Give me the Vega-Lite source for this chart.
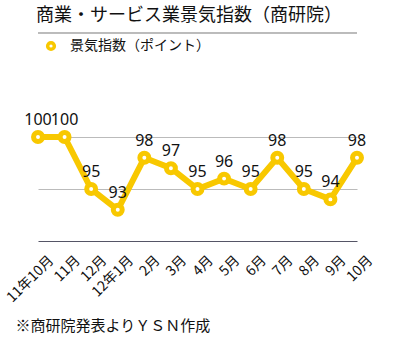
{
  "$schema": "https://vega.github.io/schema/vega-lite/v6.json",
  "autosize": {"type": "none"},
  "padding": {"left": 38, "top": 33, "right": 45, "bottom": 101},
  "width": 319,
  "height": 208,
  "background": "white",
  "config": {
    "font": "Noto Sans CJK JP",
    "view": {"stroke": null}
  },
  "title": {
    "text": "商業・サービス業景気指数（商研院）",
    "anchor": "start",
    "frame": "group",
    "fontSize": 18,
    "fontWeight": "normal",
    "color": "#111111",
    "offset": 8,
    "dx": -2
  },
  "data": {
    "values": [
      {"month": "11年10月", "value": 100, "series": "景気指数（ポイント）"},
      {"month": "11月", "value": 100, "series": "景気指数（ポイント）"},
      {"month": "12月", "value": 95, "series": "景気指数（ポイント）"},
      {"month": "12年1月", "value": 93, "series": "景気指数（ポイント）"},
      {"month": "2月", "value": 98, "series": "景気指数（ポイント）"},
      {"month": "3月", "value": 97, "series": "景気指数（ポイント）"},
      {"month": "4月", "value": 95, "series": "景気指数（ポイント）"},
      {"month": "5月", "value": 96, "series": "景気指数（ポイント）"},
      {"month": "6月", "value": 95, "series": "景気指数（ポイント）"},
      {"month": "7月", "value": 98, "series": "景気指数（ポイント）"},
      {"month": "8月", "value": 95, "series": "景気指数（ポイント）"},
      {"month": "9月", "value": 94, "series": "景気指数（ポイント）"},
      {"month": "10月", "value": 98, "series": "景気指数（ポイント）"}
    ]
  },
  "encoding": {
    "x": {
      "field": "month",
      "type": "nominal",
      "sort": null,
      "scale": {"type": "point", "padding": 0},
      "axis": {
        "title": "※商研院発表よりＹＳＮ作成",
        "titleFontSize": 15,
        "titleFontWeight": "normal",
        "titleColor": "#111111",
        "titleAnchor": "start",
        "titleAlign": "left",
        "titleX": -23,
        "titleY": 84,
        "titleBaseline": "middle",
        "labelAngle": -45,
        "labelAlign": "right",
        "labelBaseline": "middle",
        "labelOffset": 13,
        "labelPadding": 17,
        "labelFontSize": 14,
        "labelColor": "#111111",
        "labelOverlap": false,
        "ticks": false,
        "domainColor": "#555566",
        "domainWidth": 1,
        "grid": false
      }
    },
    "y": {
      "field": "value",
      "type": "quantitative",
      "scale": {"domain": [90, 110], "nice": false, "zero": false},
      "axis": {
        "title": null,
        "labels": false,
        "ticks": false,
        "domain": false,
        "values": [95, 100],
        "grid": true,
        "gridColor": "#bbbbbb",
        "gridWidth": 1
      }
    }
  },
  "layer": [
    {
      "mark": {"type": "rule", "color": "#bbbbbb", "strokeWidth": 1},
      "encoding": {"y": {"datum": 110}, "x": null}
    },
    {
      "mark": {"type": "line", "color": "#F8C800", "strokeWidth": 6}
    },
    {
      "mark": {"type": "point", "shape": "circle", "filled": false, "fill": "white", "fillOpacity": 1, "size": 80, "strokeWidth": 5, "opacity": 1},
      "encoding": {
        "stroke": {
          "field": "series",
          "type": "nominal",
          "scale": {"range": ["#F8C800"]},
          "legend": {
            "title": null,
            "orient": "top-left",
            "offset": 6,
            "padding": 0,
            "symbolType": "circle",
            "symbolFillColor": "white",
            "symbolStrokeWidth": 3.5,
            "symbolSize": 45,
            "labelFontSize": 14,
            "labelColor": "#111111",
            "labelOffset": 12
          }
        }
      }
    },
    {
      "mark": {"type": "text", "dy": -17, "baseline": "middle", "fontSize": 16, "color": "#111111", "font": "Noto Sans"},
      "encoding": {"text": {"field": "value", "type": "quantitative"}}
    }
  ]
}
